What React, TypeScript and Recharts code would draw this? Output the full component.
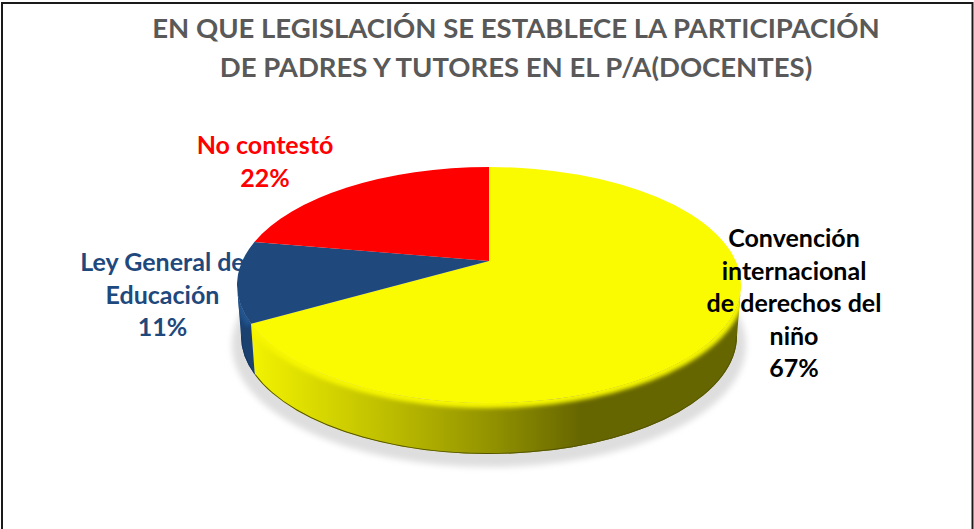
import { Pie, PieChart } from "recharts";

const categories = ["Convención internacional de derechos del niño", "Ley General de Educación", "No contestó"];
const percents = [66.7, 11.1, 22.2];
const sliceColors = ["#fafa00", "#1f497d", "#ff0000"];
const labelLines = [
  ["Convención", "internacional", "de derechos del", "niño", "67%"],
  ["Ley General de", "Educación", "11%"],
  ["No contestó", "22%"],
];
const titleLines = [
  "EN QUE LEGISLACIÓN SE ESTABLECE LA PARTICIPACIÓN",
  "DE PADRES Y TUTORES EN EL P/A(DOCENTES)",
];

const data = categories.map((name, i) => ({ name, value: percents[i], fill: sliceColors[i] }));

// label placement: centre x, first baseline, line step
const labelPlace = [
  { x: 794, y: 247, step: 32.5 },
  { x: 162.5, y: 271, step: 32.5 },
  { x: 265, y: 154, step: 33 },
];

const FONT = "Lato, sans-serif";
const SQUASH = 118 / 252; // ellipse height / width of the tilted top
const DEPTH = 51;
const BOTTOM_INSET = 4;
const TILT = 0.203; // how far the apex sits behind the ellipse centre

// angle going clockwise from 12 o'clock, moved onto the rim by the perspective
function rimAngle(deg: number) {
  const t = ((90 - deg) * Math.PI) / 180;
  const d = 1 + TILT * Math.cos(t);
  const v = (Math.cos(t) + TILT) / d;
  const u = (Math.sin(t) * Math.sqrt(1 - TILT * TILT)) / d;
  let a = Math.atan2(u, v);
  if (a < 0) a += Math.PI * 2;
  return a;
}

function PerspectiveSlice(props: any) {
  const { cx, cy, outerRadius: rx, startAngle, endAngle, fill, name } = props;
  const idx = categories.indexOf(name);
  const ry = rx * SQUASH;
  const apexY = cy - TILT * ry;
  const a = Math.abs(startAngle - 90) < 0.01 ? 0 : rimAngle(startAngle);
  let b = rimAngle(endAngle);
  if (b <= a) b += Math.PI * 2;

  const top = (t: number) => [cx + rx * Math.sin(t), cy - ry * Math.cos(t)];
  const low = (t: number) => [
    cx + (rx - BOTTOM_INSET) * Math.sin(t),
    cy + DEPTH - ry * Math.cos(t),
  ];
  const p1 = top(a);
  const p2 = top(b);
  const large = b - a > Math.PI ? 1 : 0;
  const surface = `M${cx},${apexY} L${p1[0]},${p1[1]} A${rx},${ry} 0 ${large} 1 ${p2[0]},${p2[1]} Z`;

  // only the front half of the rim shows a wall
  const wa = Math.max(a, Math.PI / 2);
  const wb = Math.min(b, (Math.PI * 3) / 2);
  const hasWall = wb > wa;
  const t1 = top(wa);
  const t2 = top(wb);
  const l1 = low(wa);
  const l2 = low(wb);
  const rimArc = `M${t1[0]},${t1[1]} A${rx},${ry} 0 0 1 ${t2[0]},${t2[1]}`;
  const lowArc = `M${l1[0]},${l1[1]} A${rx - BOTTOM_INSET},${ry} 0 0 1 ${l2[0]},${l2[1]}`;
  const wall = `${rimArc} L${l2[0]},${l2[1]} A${rx - BOTTOM_INSET},${ry} 0 0 0 ${l1[0]},${l1[1]} Z`;
  const clipId = `wall-clip-${idx}`;

  return (
    <g>
      {idx === 0 && (
        <>
          <defs>
            <linearGradient id="yellowWall" gradientUnits="userSpaceOnUse" x1={cx - 236} x2={cx + 92} y1={0} y2={0}>
              <stop offset="0" stopColor="#f2f200" />
              <stop offset="0.45" stopColor="#b8b800" />
              <stop offset="0.72" stopColor="#939300" />
              <stop offset="1" stopColor="#666600" />
            </linearGradient>
            <filter id="soft2" x="-10%" y="-10%" width="120%" height="120%">
              <feGaussianBlur stdDeviation="2" />
            </filter>
            <filter id="soft3" x="-10%" y="-10%" width="120%" height="120%">
              <feGaussianBlur stdDeviation="3" />
            </filter>
          </defs>
          <ellipse cx={cx} cy={cy + 60} rx={rx + 5} ry={ry + 4} fill="#dedede" filter="url(#soft3)" />
        </>
      )}
      {hasWall && (
        <>
          <clipPath id={clipId}>
            <path d={wall} />
          </clipPath>
          <path d={wall} fill={idx === 0 ? "url(#yellowWall)" : "#1b4171"} />
          <g clipPath={`url(#${clipId})`}>
            <path d={rimArc} fill="none" stroke={idx === 0 ? "#f6f600" : "#21558f"} strokeWidth={10} filter="url(#soft2)" />
            <path d={lowArc} fill="none" stroke={idx === 0 ? "#555500" : "#173760"} strokeWidth={2} />
          </g>
        </>
      )}
      <path d={surface} fill={fill} />
    </g>
  );
}

function SliceLabel(props: any) {
  const idx = categories.indexOf(props.name);
  const place = labelPlace[idx];
  return (
    <text
      textAnchor="middle"
      fontFamily={FONT}
      fontWeight={700}
      fontSize={25}
      fill={idx === 0 ? "#000000" : idx === 1 ? "#1f497d" : "#ff0000"}
    >
      {labelLines[idx].map((line, i) => (
        <tspan key={line} x={place.x} y={place.y + i * place.step}>
          {line}
        </tspan>
      ))}
    </text>
  );
}

export default function App() {
  return (
    <div
      style={{
        position: "absolute",
        left: 0,
        top: 0,
        width: 974,
        height: 529,
        background: "#fff",
        overflow: "hidden",
      }}
    >
      <PieChart width={974} height={529} margin={{ top: 0, right: 0, bottom: 0, left: 0 }}>
        <rect x={2} y={3} width={970.5} height={540} fill="none" stroke="#1a1a1a" strokeWidth={2} />
        {titleLines.map((line, i) => (
          <text
            key={line}
            x={516}
            y={38 + i * 39}
            textAnchor="middle"
            fontFamily={FONT}
            fontWeight={700}
            fontSize={27.5}
            fill="#595959"
          >
            {line}
          </text>
        ))}
        <Pie
          data={data}
          dataKey="value"
          nameKey="name"
          cx={489}
          cy={285}
          outerRadius={252}
          startAngle={90}
          endAngle={-270}
          stroke="none"
          shape={PerspectiveSlice}
          label={SliceLabel}
          labelLine={false}
          isAnimationActive={false}
        />
      </PieChart>
    </div>
  );
}
